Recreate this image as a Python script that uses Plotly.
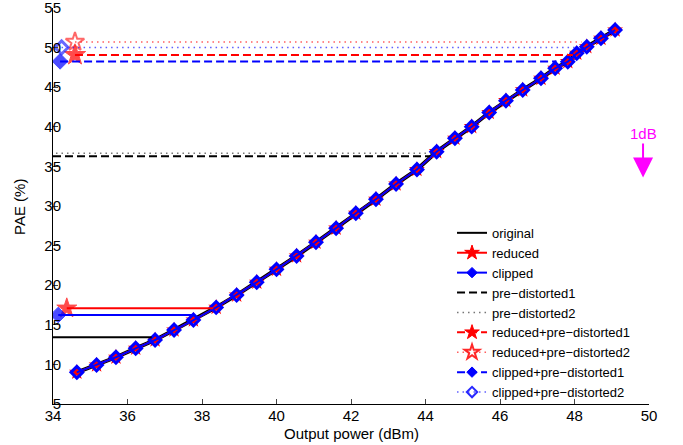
import plotly.graph_objects as go

# Main PAE curve (shared by original / reduced / clipped)
curve_x = [34.64, 35.17, 35.69, 36.22, 36.74, 37.25, 37.77, 38.38, 38.93, 39.47, 40.0,
           40.54, 41.06, 41.6, 42.13, 42.67, 43.21, 43.77, 44.3, 44.79, 45.24, 45.71,
           46.16, 46.61, 47.1, 47.48, 47.82, 48.06, 48.33, 48.71, 49.09]
curve_y = [9.0, 9.92, 10.9, 12.03, 13.08, 14.34, 15.6, 17.2, 18.75, 20.37, 22.0,
           23.69, 25.42, 27.2, 29.08, 30.85, 32.78, 34.6, 36.86, 38.55, 40.02, 41.8,
           43.3, 44.65, 46.12, 47.39, 48.22, 49.28, 50.11, 51.17, 52.22]

# Horizontal marker lines: name, start x, end x, PAE level
names = ["original", "reduced", "clipped", "pre−distorted1", "pre−distorted2",
         "reduced+pre−distorted1", "reduced+pre−distorted2",
         "clipped+pre−distorted1", "clipped+pre−distorted2"]
h_start = [34.0, 34.37, 34.14, 34.0, 34.08, 34.59, 34.59, 34.19, 34.23]
h_end = [36.65, 38.3, 37.81, 44.12, 44.2, 47.96, 48.19, 47.52, 48.06]
h_level = [13.42, 17.08, 16.24, 36.28, 36.65, 49.07, 50.72, 48.26, 50.02]

x_ticks = [34, 36, 38, 40, 42, 44, 46, 48, 50]
y_ticks = [5, 10, 15, 20, 25, 30, 35, 40, 45, 50, 55]

x_title = "Output power (dBm)"
y_title = "PAE (%)"

DASH = "8px,4px"
DOT = "1.5px,4px"
styles = [
    dict(color="black", dash="solid", width=2, symbol=None, msize=0, mline=0, lsize=0),
    dict(color="red", dash="solid", width=2, symbol="star", msize=15, mline=1, lsize=11),
    dict(color="blue", dash="solid", width=2, symbol="diamond", msize=12, mline=1, lsize=8),
    dict(color="black", dash=DASH, width=2, symbol=None, msize=0, mline=0, lsize=0),
    dict(color="rgba(60,60,60,0.7)", dash=DOT, width=1.5, symbol=None, msize=0, mline=0, lsize=0),
    dict(color="red", dash=DASH, width=2, symbol="star", msize=16, mline=1, lsize=11),
    dict(color="rgba(255,40,40,0.75)", dash=DOT, width=1.5, symbol="star-open", msize=14, mline=2, lsize=11),
    dict(color="blue", dash=DASH, width=2, symbol="diamond", msize=12, mline=1, lsize=8),
    dict(color="rgba(40,40,255,0.75)", dash=DOT, width=1.5, symbol="diamond-open", msize=10, mline=3, lsize=8),
]

fig = go.Figure()

# Curves
fig.add_trace(go.Scatter(x=curve_x, y=curve_y, mode="lines", showlegend=False,
                         line=dict(color="black", width=4), hoverinfo="skip"))
fig.add_trace(go.Scatter(x=curve_x, y=curve_y, mode="lines+markers", showlegend=False,
                         line=dict(color="red", width=2),
                         marker=dict(symbol="star", size=12, color="red"), hoverinfo="skip"))
fig.add_trace(go.Scatter(x=curve_x, y=curve_y, mode="lines+markers", showlegend=False,
                         line=dict(color="blue", width=2),
                         marker=dict(symbol="diamond-open", size=9, color="blue",
                                     line=dict(width=3, color="blue")), hoverinfo="skip"))

# Horizontal lines (marker at the start point only)
for name, xs, xe, lv, st in zip(names, h_start, h_end, h_level, styles):
    solid = st["color"].replace("0.75", "1")
    line = dict(color=st["color"], dash=st["dash"], width=st["width"])
    if st["symbol"]:
        fig.add_trace(go.Scatter(x=[xs, xe], y=[lv, lv], mode="lines+markers", showlegend=False,
                                 line=line, hoverinfo="skip",
                                 marker=dict(symbol=st["symbol"], size=[st["msize"], 0], color=solid,
                                             line=dict(width=st["mline"], color=solid))))
    else:
        fig.add_trace(go.Scatter(x=[xs, xe], y=[lv, lv], mode="lines", showlegend=False,
                                 line=line, hoverinfo="skip"))

# Legend entries
for name, st in zip(names, styles):
    solid = st["color"].replace("0.75", "1")
    line = dict(color=st["color"], dash=st["dash"], width=st["width"])
    if st["symbol"]:
        sym = st["symbol"]
        mline = 2 if sym.endswith("open") else 1
        fig.add_trace(go.Scatter(x=[None], y=[None], mode="lines+markers", name=name, line=line,
                                 marker=dict(symbol=sym, size=st["lsize"], color=solid,
                                             line=dict(width=mline, color=solid))))
    else:
        fig.add_trace(go.Scatter(x=[None], y=[None], mode="lines", name=name, line=line))

fig.add_annotation(x=49.84, y=33.6, xref="x", yref="y", text="1dB",
                   showarrow=True, ax=0, ay=-44, arrowhead=2, arrowsize=2.0,
                   arrowwidth=2, arrowcolor="#ff00ff",
                   font=dict(color="#ff00ff", size=15, family="Liberation Sans, Arial"))

# Axis titles
fig.add_annotation(x=0.5, y=-0.0745, xref="paper", yref="paper", text=x_title,
                   showarrow=False, xanchor="center", yanchor="middle", font=dict(size=15))
fig.add_annotation(x=-0.0554, y=0.4975, xref="paper", yref="paper", text=y_title,
                   showarrow=False, xanchor="center", yanchor="middle", textangle=-90,
                   font=dict(size=15))

font = dict(family="Liberation Sans, Arial, sans-serif", size=15, color="black")
fig.update_layout(
    width=683, height=445,
    margin=dict(l=53, r=34, t=8, b=41),
    plot_bgcolor="white", paper_bgcolor="white",
    font=font,
    showlegend=True,
    legend=dict(x=0.6695, y=0.47, xanchor="left", yanchor="top",
                bgcolor="rgba(255,255,255,0)", font=dict(size=13),
                itemwidth=30, tracegroupgap=0),
    xaxis=dict(range=[34, 50], tickvals=x_ticks, ticks="inside", ticklen=5,
               showline=True, linecolor="black", linewidth=1, mirror=False, automargin=False,
               showgrid=False, zeroline=False,
               tickfont=dict(size=15), ticklabelstandoff=-2, ticklabeloverflow="allow"),
    yaxis=dict(range=[5, 55], tickvals=y_ticks, ticks="inside", ticklen=5,
               showline=True, linecolor="black", linewidth=1, mirror=False, automargin=False,
               showgrid=False, zeroline=False,
               tickfont=dict(size=15), ticklabelstandoff=-12, ticklabeloverflow="allow"),
)

fig.write_html("out.html", config={"displayModeBar": False},
               post_script="document.body.style.margin='0';document.body.style.padding='0';")
